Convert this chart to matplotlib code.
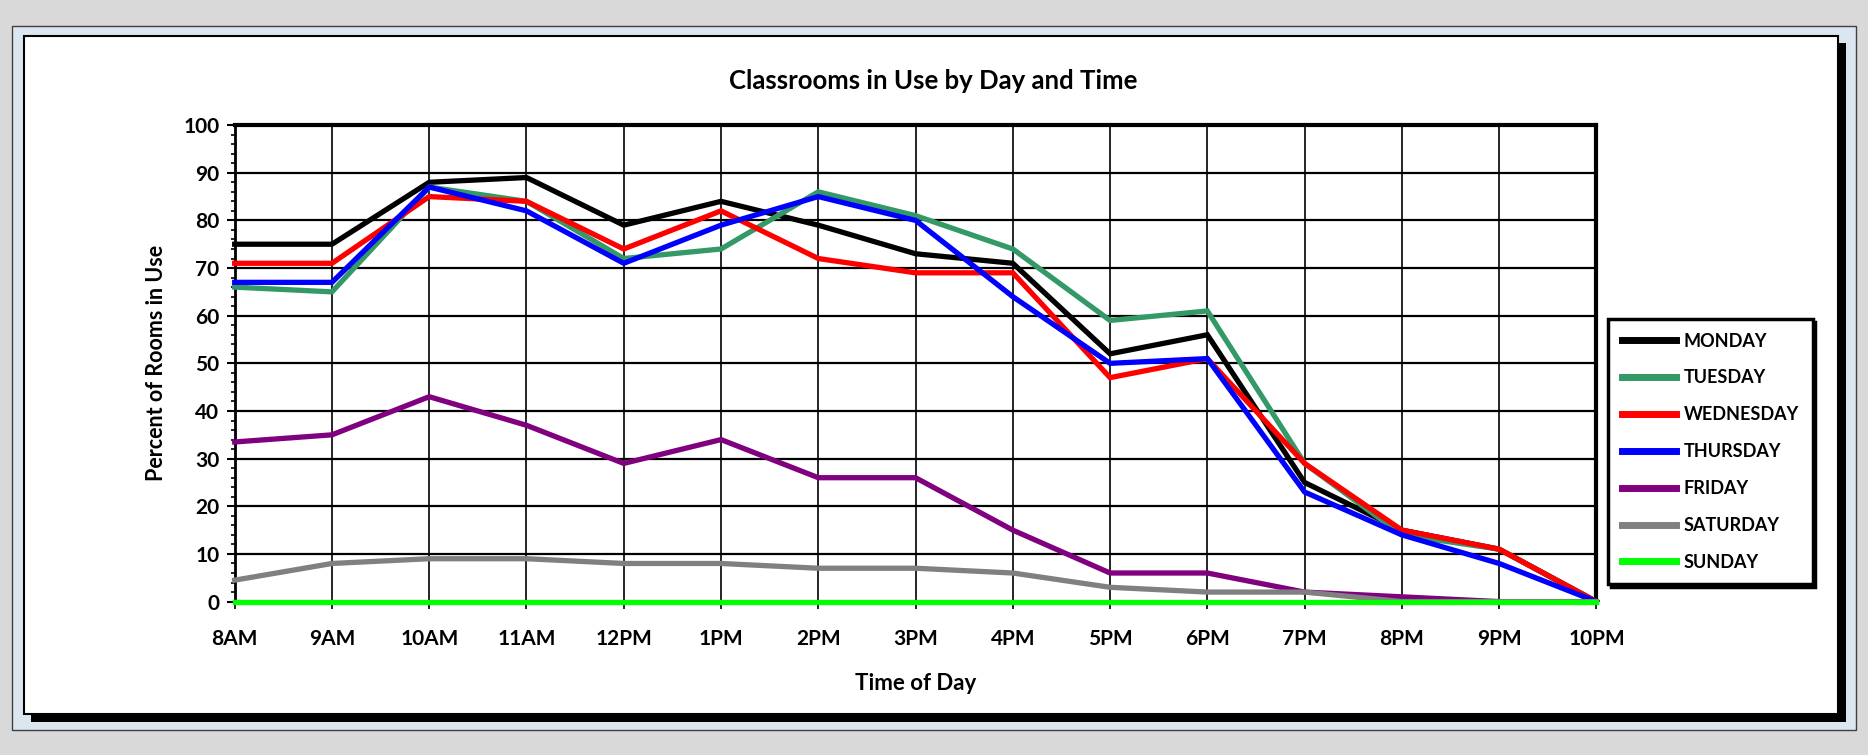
import matplotlib
matplotlib.use("Agg")
import matplotlib.pyplot as plt
from matplotlib.patches import Rectangle
from matplotlib.ticker import MultipleLocator

times = ["8AM", "9AM", "10AM", "11AM", "12PM", "1PM", "2PM", "3PM", "4PM",
         "5PM", "6PM", "7PM", "8PM", "9PM", "10PM"]
monday    = [75, 75, 88, 89, 79, 84, 79, 73, 71, 52, 56, 25, 15, 11, 0]
tuesday   = [66, 65, 87, 84, 72, 74, 86, 81, 74, 59, 61, 29, 14, 11, 0]
wednesday = [71, 71, 85, 84, 74, 82, 72, 69, 69, 47, 51, 29, 15, 11, 0]
thursday  = [67, 67, 87, 82, 71, 79, 85, 80, 64, 50, 51, 23, 14, 8, 0]
friday    = [33.5, 35, 43, 37, 29, 34, 26, 26, 15, 6, 6, 2, 1, 0, 0]
saturday  = [4.5, 8, 9, 9, 8, 8, 7, 7, 6, 3, 2, 2, 0, 0, 0]
sunday    = [0, 0, 0, 0, 0, 0, 0, 0, 0, 0, 0, 0, 0, 0, 0]

series = [
    ("MONDAY", monday, "#000000"),
    ("TUESDAY", tuesday, "#339966"),
    ("WEDNESDAY", wednesday, "#ff0000"),
    ("THURSDAY", thursday, "#0000ff"),
    ("FRIDAY", friday, "#800080"),
    ("SATURDAY", saturday, "#808080"),
    ("SUNDAY", sunday, "#00ff00"),
]

plt.rcParams['font.family'] = ['Lato', 'DejaVu Sans']
plt.rcParams['font.weight'] = 'bold'

W, H = 1868, 755
fig = plt.figure(figsize=(W / 100, H / 100), dpi=100)
fig.patch.set_facecolor("#d9d9d9")


def prect(x0, y0, x1, y1, **kw):
    r = Rectangle((x0 / W, 1 - y1 / H), (x1 - x0) / W, (y1 - y0) / H,
                  transform=fig.transFigure, **kw)
    fig.add_artist(r)
    return r


prect(12, 26, 1856, 730, facecolor="#dce6f0", edgecolor="#404040", lw=1.0, zorder=-10)
prect(31, 43, 1846, 722, facecolor="black", edgecolor="black", lw=0, zorder=-9)
prect(24, 36, 1838, 714, facecolor="white", edgecolor="black", lw=1.5, zorder=-8)

left, right, top, bottom = 234.7, 1596.4, 125.1, 601.6
ax = fig.add_axes([left / W, 1 - bottom / H, (right - left) / W, (bottom - top) / H])
ax.set_facecolor("white")

x = list(range(len(times)))
for name, vals, col in series:
    ax.plot(x, vals, color=col, lw=3.8, label=name, solid_joinstyle="miter",
            zorder=3, clip_on=False)

ax.set_xlim(0, len(times) - 1)
ax.set_ylim(0, 100)
ax.set_xticks(x)
ax.set_xticklabels(times)
ax.yaxis.set_major_locator(MultipleLocator(10))
ax.yaxis.set_minor_locator(MultipleLocator(2))
ax.grid(True, which="major", axis="y", color="black", lw=1.6, zorder=1)
ax.grid(True, which="major", axis="x", color="black", lw=1.2, zorder=1)

ax.tick_params(axis="y", which="major", direction="out", length=6, width=1.5,
               labelsize=15, pad=5)
ax.tick_params(axis="y", which="minor", direction="out", length=3, width=1.2)
ax.tick_params(axis="x", which="major", direction="out", length=5, width=1.2,
               labelsize=15, pad=15)
for lab in ax.get_xticklabels() + ax.get_yticklabels():
    lab.set_fontweight("bold")

ax.spines["top"].set_linewidth(3)
ax.spines["right"].set_linewidth(3)
ax.spines["left"].set_linewidth(2)
ax.spines["bottom"].set_linewidth(1.5)
for s in ax.spines.values():
    s.set_zorder(2)

ax.set_xlabel("Time of Day", fontsize=16, fontweight="bold", labelpad=17)
ax.set_ylabel("Percent of Rooms in Use", fontsize=15.5, fontweight="bold", labelpad=12)
fig.text(933 / W, 1 - 81 / H, "Classrooms in Use by Day and Time", ha="center",
         va="center", fontsize=18.5, fontweight="bold")

leg = fig.legend(loc="upper left", bbox_to_anchor=(1608 / W, 1 - 319 / H),
                 bbox_transform=fig.transFigure, borderaxespad=0,
                 fontsize=13, frameon=True, fancybox=False,
                 handlelength=3.0, handletextpad=0.45, labelspacing=1.1,
                 borderpad=0.75,
                 shadow={"color": "black", "alpha": 1.0})
leg.get_frame().set_edgecolor("black")
leg.get_frame().set_linewidth(2.5)
for t in leg.get_texts():
    t.set_fontweight("bold")
for l in leg.get_lines():
    l.set_linewidth(5)

fig.savefig("out.png", dpi=100, facecolor=fig.get_facecolor())
